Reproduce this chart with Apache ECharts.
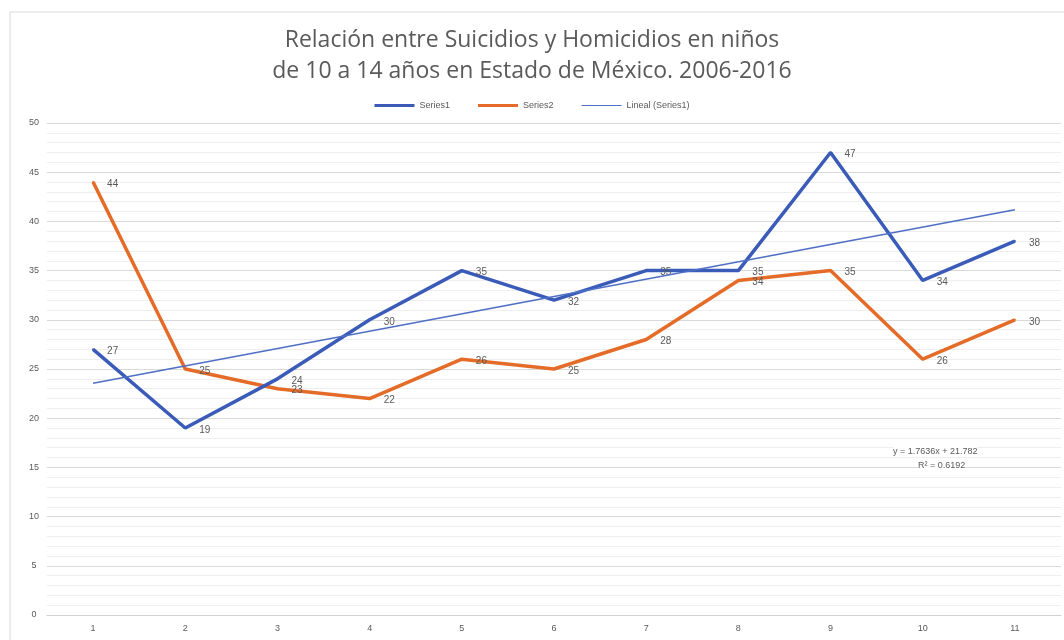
<!DOCTYPE html>
<html>
<head>
<meta charset="utf-8">
<script src="https://cdn.jsdelivr.net/npm/echarts@6/dist/echarts.min.js"></script>
<style>html,body{margin:0;padding:0;background:#fff}#c{width:1064px;height:640px}</style>
</head>
<body>
<div id="c"></div>
<script>
const categories = ['1','2','3','4','5','6','7','8','9','10','11'];
const series1 = [27, 19, 24, 30, 35, 32, 35, 35, 47, 34, 38];
const series2 = [44, 25, 23, 22, 26, 25, 28, 34, 35, 26, 30];
const trendSeries1 = [23.55, null, null, null, null, null, null, null, null, null, 41.18];
const trendLabel = ['y = 1.7636x + 21.782', 'R² = 0.6192'];
const titleLines = ['Relación entre Suicidios y Homicidios en niños', 'de 10 a 14 años en Estado de México. 2006-2016'];
const legendNames = ['Series1', 'Series2', 'Lineal (Series1)'];

const chart = echarts.init(document.getElementById('c'));
const labelStyle = {show: true, position: 'right', distance: 13, offset: [0, 2], fontSize: 10, color: '#595959', fontFamily: 'Liberation Sans'};
chart.setOption({
  animation: false,
  backgroundColor: '#fff',
  title: {
    text: titleLines.join('\n'),
    left: 'center', top: 20,
    textStyle: {fontSize: 23, fontWeight: 'normal', color: '#5a5a5a', fontFamily: 'Open Sans', lineHeight: 31}
  },
  legend: {
    top: 96, left: 'center',
    itemWidth: 40, itemHeight: 3, itemGap: 28,
    icon: 'rect',
    textStyle: {fontSize: 9, color: '#595959', fontFamily: 'Liberation Sans'},
    data: [
      {name: legendNames[0], itemStyle: {color: '#3A5CB8', opacity: 1}},
      {name: legendNames[1], itemStyle: {color: '#E46C28', opacity: 1}},
      {name: legendNames[2], icon: 'path://M0,4.4L40,4.4L40,5.6L0,5.6Z', itemStyle: {color: '#4F6FC6', opacity: 1}}
    ]
  },
  grid: {left: 47, right: 3, top: 123, bottom: 25, containLabel: false},
  xAxis: {
    type: 'category', data: categories, boundaryGap: true,
    axisLine: {show: true, lineStyle: {color: '#d0d0d0'}},
    axisTick: {show: false},
    axisLabel: {fontSize: 9, color: '#595959', margin: 9, fontFamily: 'Liberation Sans'}
  },
  yAxis: {
    type: 'value', min: 0, max: 50, interval: 5,
    axisLine: {show: false}, axisTick: {show: false},
    axisLabel: {fontSize: 9, color: '#595959', margin: 13, align: 'center', fontFamily: 'Liberation Sans'},
    splitLine: {lineStyle: {color: '#d9d9d9', width: 1}},
    minorTick: {show: false, splitNumber: 5},
    minorSplitLine: {show: true, lineStyle: {color: '#eeeeee', width: 1}}
  },
  graphic: [
    {type: 'rect', shape: {x: 10, y: 12, width: 1060, height: 640}, style: {fill: 'none', stroke: '#d9d9d9', lineWidth: 1}, silent: true, z: -1},
    {type: 'text', left: 893, top: 447, z: 10, style: {text: trendLabel[0], fontSize: 9, fill: '#595959', fontFamily: 'Liberation Sans', backgroundColor: '#fff'}},
    {type: 'text', left: 918, top: 461, z: 10, style: {text: trendLabel[1], fontSize: 9, fill: '#595959', fontFamily: 'Liberation Sans', backgroundColor: '#fff'}}
  ],
  series: [
    {
      name: legendNames[0], type: 'line', data: series1,
      symbol: 'circle', symbolSize: 2, showSymbol: true, itemStyle: {color: '#3A5CB8'},
      lineStyle: {color: '#3A5CB8', width: 3.5},
      label: labelStyle, z: 3
    },
    {
      name: legendNames[1], type: 'line', data: series2,
      symbol: 'circle', symbolSize: 2, showSymbol: true, itemStyle: {color: '#E46C28'},
      lineStyle: {color: '#E46C28', width: 3.5},
      label: labelStyle, z: 2
    },
    {
      name: legendNames[2], type: 'line', data: trendSeries1, connectNulls: true,
      symbol: 'none', lineStyle: {color: '#4F6FC6', width: 1.5}, itemStyle: {color: '#4F6FC6'},
      label: {show: false}, z: 4
    }
  ]
});
</script>
</body>
</html>
